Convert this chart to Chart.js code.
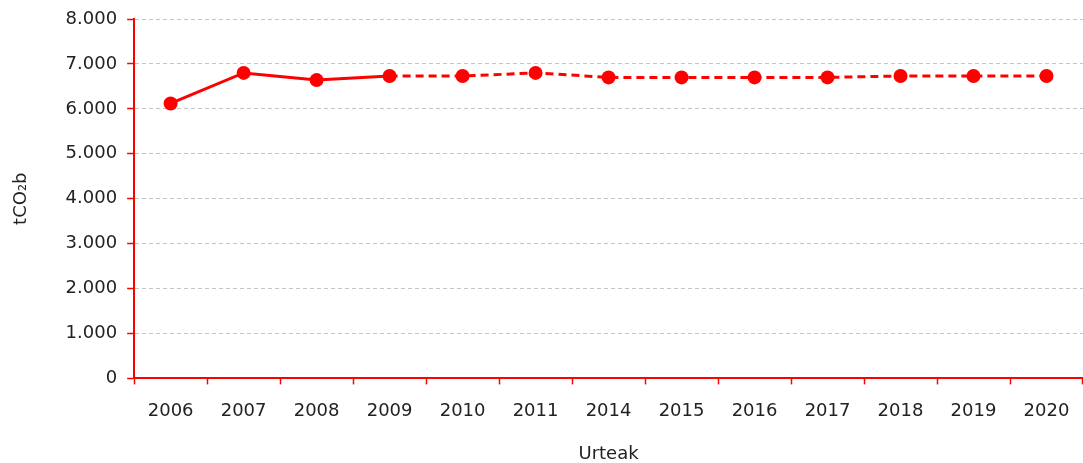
<!DOCTYPE html>
<html lang="eu">
<head>
    <meta charset="UTF-8">
    <title>tCO2b urteka</title>
    <script src="https://cdn.jsdelivr.net/npm/chart.js"></script>
    <style>
        body {
            margin: 0;
            background: white;
            overflow: hidden;
        }
        .chart-container {
            position: relative;
            width: 1090px;
            height: 463px;
        }
    </style>
</head>
<body>
    <div class="chart-container">
        <canvas id="co2Chart"></canvas>
    </div>

    <script>
        const years = ["2006", "2007", "2008", "2009", "2010", "2011", "2014", "2015", "2016", "2017", "2018", "2019", "2020"];
        const emissions = [6120, 6800, 6640, 6730, 6730, 6800, 6700, 6700, 6700, 6700, 6730, 6730, 6730];
        const dashedFrom = 3; // line is dashed from 2009 on
        const yTicksMax = 8000;
        const yTicksStep = 1000;

        const red = "#ff0000";
        const textColor = "#222222";
        const font = { family: "'DejaVu Sans', sans-serif", size: 18 };

        new Chart(document.getElementById("co2Chart"), {
            type: "line",
            data: {
                labels: years,
                datasets: [{
                    data: emissions,
                    borderColor: red,
                    backgroundColor: red,
                    borderWidth: 3,
                    pointRadius: 7,
                    pointHoverRadius: 7,
                    pointBackgroundColor: red,
                    pointBorderWidth: 0,
                    tension: 0,
                    segment: {
                        borderDash: ctx => ctx.p0DataIndex >= dashedFrom ? [8, 5] : undefined
                    }
                }]
            },
            options: {
                responsive: true,
                maintainAspectRatio: false,
                animation: false,
                layout: { padding: { top: 3, right: 0, bottom: 0, left: 0 } },
                plugins: {
                    legend: { display: false },
                    tooltip: { enabled: false }
                },
                scales: {
                    x: {
                        offset: true,
                        border: { color: red, width: 2 },
                        grid: {
                            offset: true,
                            drawOnChartArea: false,
                            drawTicks: true,
                            tickLength: 6,
                            tickColor: red,
                            tickWidth: 1.5
                        },
                        ticks: { color: textColor, font: font, padding: 16, maxRotation: 0 },
                        title: {
                            display: true,
                            text: "Urteak",
                            color: textColor,
                            font: { family: font.family, size: 18, lineHeight: 1 },
                            padding: { top: 7, bottom: 0 }
                        }
                    },
                    y: {
                        min: 0,
                        max: yTicksMax,
                        border: { color: red, width: 2, dash: [4, 3] },
                        grid: {
                            color: "#c4c4c4",
                            lineWidth: 1,
                            tickBorderDash: [],
                            tickColor: red,
                            tickWidth: 1.5,
                            tickLength: 7
                        },
                        ticks: {
                            stepSize: yTicksStep,
                            color: textColor,
                            font: { family: font.family, size: 18, lineHeight: 1 },
                            padding: 10,
                            callback: v => v.toLocaleString("de-DE")
                        },
                        title: {
                            display: true,
                            text: "tCO₂b",
                            color: textColor,
                            font: font,
                            padding: { top: 11, bottom: 23 }
                        }
                    }
                }
            }
        });
    </script>
</body>
</html>
